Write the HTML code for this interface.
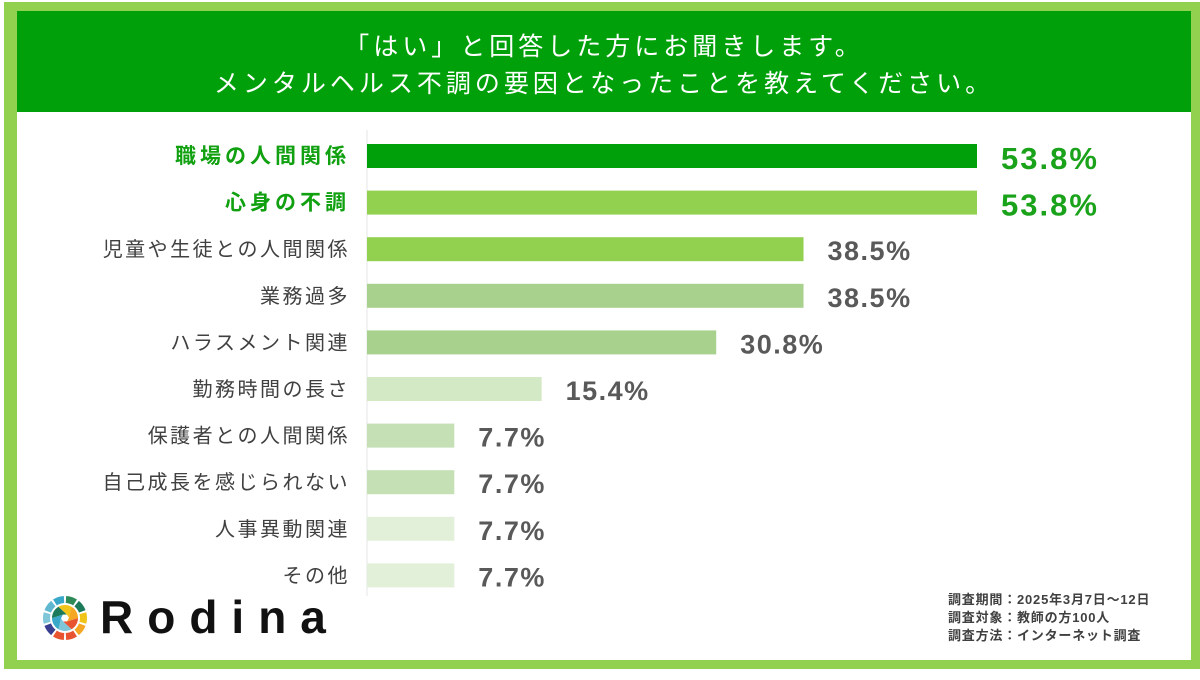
<!DOCTYPE html>
<html><head><meta charset="utf-8">
<style>
html,body{margin:0;padding:0;background:#fff;}
body{width:1200px;height:680px;position:relative;overflow:hidden;font-family:"Liberation Sans","Noto Sans CJK JP",sans-serif;}
#frame{position:absolute;left:4px;top:2px;width:1196px;height:667px;background:#92d050;}
#inner{position:absolute;left:17px;top:11px;width:1174px;height:649px;background:#fff;}
#header{position:absolute;left:17px;top:11px;width:1174px;height:101px;background:#00a00a;color:#fff;text-align:center;font-size:25px;line-height:37px;padding-top:18px;box-sizing:border-box;letter-spacing:4px;}
#foot{position:absolute;left:948px;top:591px;font-size:13px;line-height:18px;color:#404040;font-weight:bold;letter-spacing:0.8px;}
#logo-text{position:absolute;left:100px;top:590px;font-size:46px;font-weight:bold;letter-spacing:14px;color:#111;line-height:54px;}
</style></head><body>
<div id="frame"></div>
<div id="inner"></div>
<div id="header">「はい」と回答した方にお聞きします。<br>メンタルヘルス不調の要因となったことを教えてください。</div>
<svg id="chart" width="1200" height="680" style="position:absolute;left:0;top:0"></svg>
<svg width="50" height="50" style="position:absolute;left:40px;top:593px" viewBox="-25 -25 50 50">
<g id="ring"></g>
</svg>
<div id="logo-text">Rodina</div>
<div id="foot">調査期間：2025年3月7日～12日<br>調査対象：教師の方100人<br>調査方法：インターネット調査</div>
<script>
const categories=["職場の人間関係","心身の不調","児童や生徒との人間関係","業務過多","ハラスメント関連","勤務時間の長さ","保護者との人間関係","自己成長を感じられない","人事異動関連","その他"];
const values=[53.8,53.8,38.5,38.5,30.8,15.4,7.7,7.7,7.7,7.7];
const colors=["#00a00a","#92d050","#92d050","#a9d18e","#a9d18e","#d3e9c6","#c5e0b4","#c5e0b4","#e2f0d9","#e2f0d9"];
const NS="http://www.w3.org/2000/svg";
const svg=document.getElementById('chart');
const x0=367, xs=610/53.8;
const x=v=>x0+v*xs;
const yc=i=>156+i*46.6;
function mk(t,a){const e=document.createElementNS(NS,t);for(const k in a)e.setAttribute(k,a[k]);svg.appendChild(e);return e;}
const ax=mk('line',{x1:367,y1:130,x2:367,y2:596,stroke:'#e6e6e6','stroke-width':1});


categories.forEach((c,i)=>{
  const hi=i<2;
  const r=mk('rect',{x:x0,y:yc(i)-12,width:x(values[i])-x0,height:24,fill:colors[i]});
  
  
  const t=mk('text',{x:350,y:yc(i)+7,'text-anchor':'end','font-size':hi?21:20,'letter-spacing':hi?4:2.5,fill:hi?'#10a010':'#404040','font-weight':hi?'bold':'normal'});
  t.textContent=c;
  
  
  const v=mk('text',{x:x(values[i])+24,y:yc(i)+(hi?13:11),'font-size':hi?31:27,'letter-spacing':hi?2:1.5,'font-weight':'bold',fill:hi?'#1aa31a':'#595959'});
  v.textContent=values[i].toFixed(1)+'%';
  
  
});
const ring=document.getElementById('ring');
const rc=["#2e8b57","#1b7a5a","#f0c419","#f5a623","#e8542f","#e8542f","#3b3f8f","#7fc6d9","#5fb8d0","#3aa9c9"];
for(let k=0;k<10;k++){
  const a1=(k*36-90+3)*Math.PI/180,a2=((k+1)*36-90-3)*Math.PI/180;
  const R=22,r=15;
  const p=`M${R*Math.cos(a1)},${R*Math.sin(a1)} A${R},${R} 0 0 1 ${R*Math.cos(a2)},${R*Math.sin(a2)} L${r*Math.cos(a2)},${r*Math.sin(a2)} A${r},${r} 0 0 0 ${r*Math.cos(a1)},${r*Math.sin(a1)}Z`;
  const e=document.createElementNS(NS,'path');e.setAttribute('d',p);e.setAttribute('fill',rc[k]);ring.appendChild(e);
}
const ic=["#e8542f","#7fc6d9","#3aa9c9","#1b7a5a","#f0c419","#f5a623"];
for(let k=0;k<6;k++){
  const a1=(k*60)*Math.PI/180,a2=((k+1)*60)*Math.PI/180;
  const e=document.createElementNS(NS,'path');
  e.setAttribute('d',`M${4*Math.cos(a1+1)},${4*Math.sin(a1+1)} L${13*Math.cos(a1)},${13*Math.sin(a1)} A13,13 0 0 1 ${13*Math.cos(a2)},${13*Math.sin(a2)} L${4*Math.cos(a2+1)},${4*Math.sin(a2+1)}Z`);
  e.setAttribute('fill',ic[k]);ring.appendChild(e);
}
</script>
</body></html>
